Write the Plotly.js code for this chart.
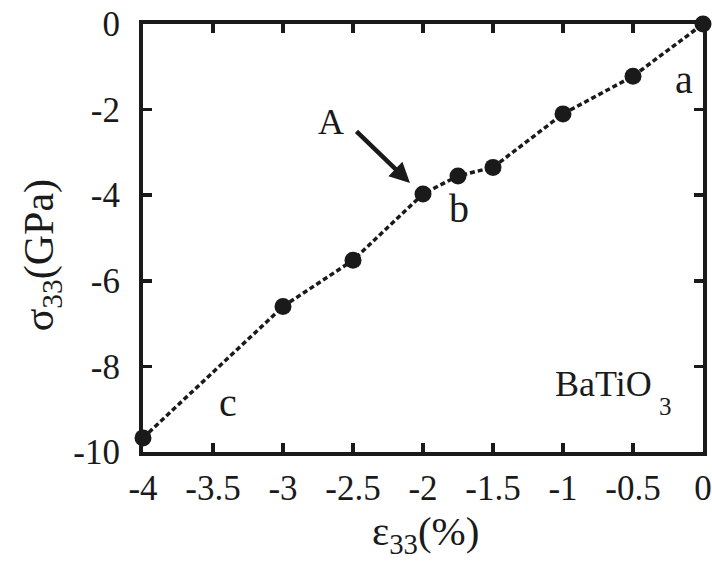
<!DOCTYPE html>
<html>
<head>
<meta charset="utf-8">
<script src="https://cdn.plot.ly/plotly-3.0.1.min.js"></script>
<style>html,body{margin:0;padding:0;background:#fff;}#chart{width:712px;height:561px;}</style>
</head>
<body>
<div id="chart"></div>
<script>
// strain (%) and stress (GPa)
const strain = [-4, -3, -2.5, -2, -1.75, -1.5, -1, -0.5, 0];
const stress = [-9.67, -6.6, -5.52, -3.97, -3.55, -3.35, -2.1, -1.22, 0];
const xTicks = [-4, -3.5, -3, -2.5, -2, -1.5, -1, -0.5, 0];
const xTickText = ['-4', '-3.5', '-3', '-2.5', '-2', '-1.5', '-1', '-0.5', '0'];
const yTicks = [-10, -8, -6, -4, -2, 0];
const yTickText = ['-10', '-8', '-6', '-4', '-2', '0'];

const font = 'Liberation Serif';
const ink = '#1a1a1a';

const trace = {
  x: strain, y: stress, type: 'scatter', mode: 'lines+markers',
  line: {color: ink, width: 3.5, dash: '5px,3px'},
  marker: {color: ink, size: 17, symbol: 'circle'},
  cliponaxis: false, hoverinfo: 'skip'
};

const axisCommon = {
  showgrid: false, zeroline: false, showline: true, linewidth: 4, linecolor: ink,
  mirror: 'allticks', ticks: 'inside', ticklen: 9, tickwidth: 3.5, tickcolor: ink,
  tickfont: {family: font, size: 35, color: ink}, tickmode: 'array'
};

function txt(x, y, s, size) {
  return {x: x, y: y, xref: 'x', yref: 'y', text: s, showarrow: false,
          font: {family: font, size: size, color: ink}};
}

const layout = {
  width: 712, height: 561,
  margin: {l: 143, r: 9, t: 24, b: 109},
  paper_bgcolor: '#fff', plot_bgcolor: '#fff',
  showlegend: false,
  xaxis: Object.assign({}, axisCommon, {
    range: [-4, 0], tickvals: xTicks, ticktext: xTickText, ticklabelstandoff: 2
  }),
  yaxis: Object.assign({}, axisCommon, {
    range: [-10, 0], tickvals: yTicks, ticktext: yTickText, ticklabelstandoff: 12
  }),
  annotations: [
    {x: -2.093, y: -3.715, xref: 'x', yref: 'y', text: '', showarrow: true,
     ax: -55, ay: -53, arrowhead: 2, arrowsize: 0.9, arrowwidth: 4.5, arrowcolor: ink},
    txt(-2.66, -2.29, 'A', 36),
    txt(-0.135, -1.30, 'a', 40),
    txt(-1.74, -4.30, 'b', 40),
    txt(-3.39, -8.85, 'c', 40),
    txt(-0.71, -8.40, 'BaTiO', 36),
    txt(-0.27, -8.93, '3', 25),
    {x: 0.5036, y: -0.192, xref: 'paper', yref: 'paper', xanchor: 'center', yanchor: 'middle',
     borderpad: 0, text: 'ε<sub>33</sub>(%)', showarrow: false, font: {family: font, size: 41, color: ink}},
    {x: -0.18, y: 0.46, xref: 'paper', yref: 'paper', xanchor: 'center', yanchor: 'middle',
     textangle: -90, text: 'σ<sub>33</sub>(GPa)', showarrow: false,
     font: {family: font, size: 42, color: ink}}
  ]
};

Plotly.newPlot('chart', [trace], layout, {staticPlot: true, displayModeBar: false});
</script>
</body>
</html>
